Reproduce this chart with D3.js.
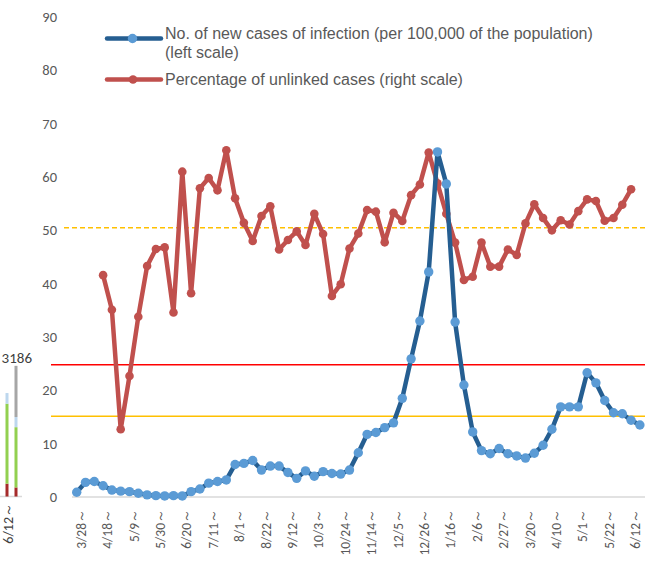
<!DOCTYPE html>
<html><head><meta charset="utf-8">
<script src="https://cdn.jsdelivr.net/npm/d3@7"></script>
<style>
html,body{margin:0;padding:0;background:#fff;overflow:hidden}
</style></head>
<body>
<svg id="c" width="645" height="563"></svg>
<script>
// ---- data ----
const weeks = ["3/28","4/4","4/11","4/18","4/25","5/2","5/9","5/16","5/23","5/30","6/6","6/13","6/20","6/27","7/4","7/11","7/18","7/25","8/1","8/8","8/15","8/22","8/29","9/5","9/12","9/19","9/26","10/3","10/10","10/17","10/24","10/31","11/7","11/14","11/21","11/28","12/5","12/12","12/19","12/26","1/2","1/9","1/16","1/23","1/30","2/6","2/13","2/20","2/27","3/6","3/13","3/20","3/27","4/3","4/10","4/17","4/24","5/1","5/8","5/15","5/22","5/29","6/5","6/12","6/19"];
const tickLabels = ["3/28","4/18","5/9","5/30","6/20","7/11","8/1","8/22","9/12","10/3","10/24","11/14","12/5","12/26","1/16","2/6","2/27","3/20","4/10","5/1","5/22","6/12"];
const newCases = [0.9,2.75,2.9,2.1,1.3,1.1,1.0,0.7,0.4,0.25,0.2,0.25,0.2,1.0,1.5,2.6,2.9,3.2,6.1,6.3,6.85,5.05,5.8,5.8,4.6,3.5,4.9,3.9,4.75,4.4,4.3,5.05,8.3,11.75,12.1,13.0,13.9,18.5,25.9,33.0,42.2,64.7,58.7,32.8,21.0,12.2,8.7,8.1,9.1,8.1,7.7,7.3,8.2,9.7,12.7,16.9,16.9,16.9,23.3,21.4,18.1,15.8,15.6,14.4,13.5];
const unlinkedPct = [null,null,null,41.6,35.1,12.7,22.7,33.8,43.3,46.5,46.8,34.6,61.0,38.2,57.9,59.8,57.5,65.0,56.0,51.4,48.0,52.7,54.5,46.4,48.2,49.8,47.25,53.1,49.3,37.7,39.9,46.6,49.4,53.8,53.5,47.75,53.3,51.75,56.6,58.6,64.6,58.8,53.1,47.7,40.7,41.3,47.7,43.2,43.2,46.4,45.4,51.3,54.9,52.3,50.0,51.9,51.1,53.6,55.8,55.5,51.8,52.3,54.8,57.7,null];
const yTicks = [0,10,20,30,40,50,60,70,80,90];
const refLines = [{v:50.5,color:"#FFC000",dash:"5,3"},{v:24.8,color:"#FF0000",dash:null},{v:15.15,color:"#FFC000",dash:null}];
const seriesNames = ["No. of new cases of infection (per 100,000 of the population)","(left scale)","Percentage of unlinked cases (right scale)"];
// partial neighbouring chart visible at the left edge
const sideBars = [
  [{v:2.4,c:"#A52A2A"},{v:15.0,c:"#92D050"},{v:2.0,c:"#BDD7EE"}],
  [{v:1.7,c:"#A52A2A"},{v:11.3,c:"#92D050"},{v:1.9,c:"#BDD7EE"},{v:9.6,c:"#A6A6A6"}]
];
const sideLabel = "6/12～";
const sideValue = "3186";

// ---- chart ----
const svg = d3.select("#c");
const x = d3.scaleBand().domain(weeks).range([72.3, 644.3]);
const y = d3.scaleLinear().domain([0, 90]).range([497, 17]);
const cx = d => x(d) + x.bandwidth()/2;
const axisFont = "Carlito, Lato, 'Liberation Sans', sans-serif";
const grey = "#595959";

// y tick labels
svg.append("g").selectAll("text").data(yTicks).join("text")
  .attr("x", 57).attr("y", d => y(d)).attr("dy", "0.35em")
  .attr("text-anchor", "end").attr("font-family", axisFont)
  .attr("font-size", 14.5).attr("fill", grey).text(d => d);

// reference lines
svg.append("g").selectAll("line").data(refLines).join("line")
  .attr("x1", d => d.dash ? 64 : 51).attr("x2", 645)
  .attr("y1", d => y(d.v)).attr("y2", d => y(d.v))
  .attr("stroke", d => d.color).attr("stroke-width", 1.5)
  .attr("stroke-dasharray", d => d.dash);

// x axis line
svg.append("line").attr("x1", 72).attr("x2", 645).attr("y1", y(0)).attr("y2", y(0))
  .attr("stroke", "#D9D9D9").attr("stroke-width", 1.5);

// x tick labels
svg.append("g").selectAll("text").data(tickLabels).join("text")
  .attr("transform", d => `translate(${cx(d)+9},509) rotate(-90)`)
  .attr("text-anchor", "end").attr("font-family", axisFont)
  .attr("font-size", 13.5).attr("fill", grey).text(d => d + "～");

// red series
const redData = weeks.map((w,i) => ({w, v: unlinkedPct[i]}));
const lineR = d3.line().defined(d => d.v != null).x(d => cx(d.w)).y(d => y(d.v));
svg.append("path").datum(redData).attr("d", lineR)
  .attr("fill", "none").attr("stroke", "#C0504D").attr("stroke-width", 4.5)
  .attr("stroke-linejoin", "round").attr("stroke-linecap", "round");
svg.append("g").selectAll("circle").data(redData.filter(d => d.v != null)).join("circle")
  .attr("cx", d => cx(d.w)).attr("cy", d => y(d.v)).attr("r", 4.3).attr("fill", "#C0504D");

// blue series
const blueData = weeks.map((w,i) => ({w, v: newCases[i]}));
const lineB = d3.line().x(d => cx(d.w)).y(d => y(d.v));
svg.append("path").datum(blueData).attr("d", lineB)
  .attr("fill", "none").attr("stroke", "#255E91").attr("stroke-width", 4.5)
  .attr("stroke-linejoin", "round").attr("stroke-linecap", "round");
svg.append("g").selectAll("circle").data(blueData).join("circle")
  .attr("cx", d => cx(d.w)).attr("cy", d => y(d.v)).attr("r", 4.7).attr("fill", "#5B9BD5");

// legend
const legFont = "'Liberation Sans', Arial, sans-serif";
const lg = svg.append("g");
lg.append("line").attr("x1", 107).attr("x2", 161).attr("y1", 38.5).attr("y2", 38.5)
  .attr("stroke", "#255E91").attr("stroke-width", 4.5).attr("stroke-linecap", "round");
lg.append("circle").attr("cx", 132.5).attr("cy", 38.5).attr("r", 4.7).attr("fill", "#5B9BD5");
lg.append("line").attr("x1", 107).attr("x2", 161).attr("y1", 79.5).attr("y2", 79.5)
  .attr("stroke", "#C0504D").attr("stroke-width", 4.5).attr("stroke-linecap", "round");
lg.append("circle").attr("cx", 133).attr("cy", 79.5).attr("r", 4.3).attr("fill", "#C0504D");
lg.selectAll("text").data(seriesNames).join("text")
  .attr("x", 165).attr("y", (d,i) => [39, 57.5, 85][i])
  .attr("font-family", legFont).attr("font-size", 16).attr("fill", grey).text(d => d);

// partial neighbouring chart at left edge
const sg = svg.append("g");
sg.append("line").attr("x1", 0).attr("x2", 22).attr("y1", 496.5).attr("y2", 496.5)
  .attr("stroke", "#D9D9D9").attr("stroke-width", 1.5);
const sideX = [7, 16];
sideBars.forEach((stack, j) => {
  let acc = 0;
  stack.forEach(s => {
    sg.append("rect").attr("x", sideX[j] - 1.5).attr("width", 3)
      .attr("y", y(acc + s.v) - 0.5).attr("height", y(acc) - y(acc + s.v))
      .attr("fill", s.c);
    acc += s.v;
  });
});
sg.append("text").attr("x", 32).attr("y", 363).attr("text-anchor", "end")
  .attr("font-family", axisFont).attr("font-size", 15).attr("fill", "#404040").text(sideValue);
sg.append("text").attr("transform", "translate(13,503) rotate(-90)")
  .attr("text-anchor", "end").attr("font-family", axisFont)
  .attr("font-size", 14).attr("fill", "#404040").text(sideLabel);
</script>
</body></html>
